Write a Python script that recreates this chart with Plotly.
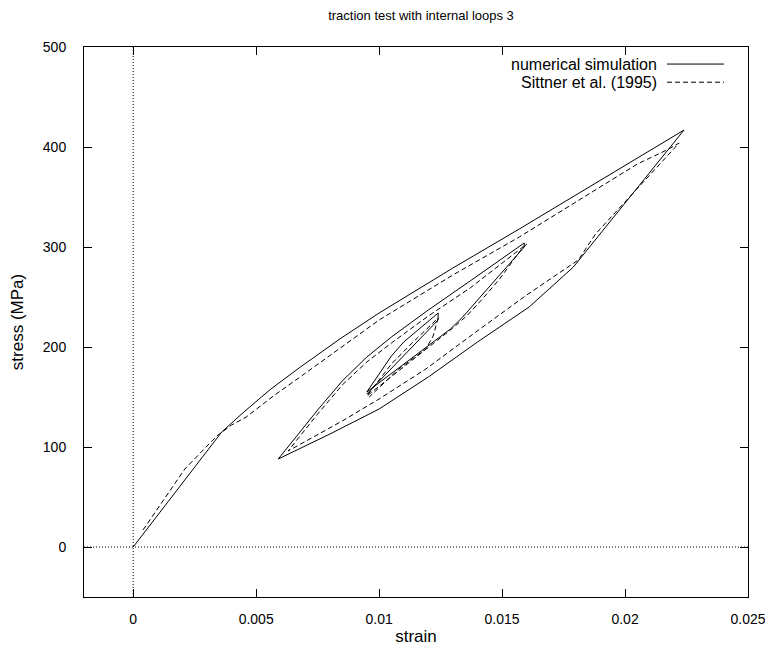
import plotly.graph_objects as go

# ---- data: numerical simulation (solid) ----
sim_strain = [0.0, 0.0036, 0.0045, 0.0056, 0.0068, 0.0084, 0.0100, 0.0130, 0.0157, 0.0206, 0.0224,
              0.0179, 0.0161, 0.0140, 0.0120, 0.0100, 0.0080, 0.0059,
              0.0075, 0.0085, 0.0095, 0.0105, 0.0120, 0.0137, 0.0159,
              0.0159, 0.0141, 0.0134, 0.0129, 0.0095,
              0.0105, 0.0110, 0.0124, 0.0124, 0.0095]
sim_stress = [0, 115, 135, 158, 180, 208, 234, 279, 318, 390, 417,
              280, 240, 205, 170, 138, 113, 88,
              137, 166, 190, 210, 237, 266, 304,
              300, 249, 230, 218, 155,
              191, 205, 234, 227, 153]

# ---- data: Sittner et al. (1995) (dashed) ----
exp_strain = [0.0004, 0.0021, 0.0034, 0.0040, 0.0046, 0.0057, 0.0069, 0.0085, 0.0100, 0.0130, 0.0157,
              0.0205, 0.0217, 0.0222,
              0.0188, 0.0181, 0.0160, 0.0141, 0.0119, 0.0100, 0.0085, 0.0063,
              0.0075, 0.0085, 0.0095, 0.0105, 0.0120, 0.0137, 0.0158, 0.0160,
              0.0157, 0.0149, 0.0142, 0.0136, 0.0130, 0.0095,
              0.0105, 0.0113, 0.0124,
              0.0122, 0.0119, 0.0112, 0.0108, 0.0096]
exp_stress = [17, 78, 111, 122, 130, 151, 172, 200, 227, 272, 310,
              383, 397, 404,
              313, 287, 252, 218, 178, 148, 126, 96,
              133, 162, 185, 204, 231, 259, 299, 303,
              295, 268, 248, 232, 219, 151,
              183, 203, 229,
              211, 198, 185, 178, 150]

x_ticks = [0, 0.005, 0.01, 0.015, 0.02, 0.025]
x_tick_labels = ["0", "0.005", "0.01", "0.015", "0.02", "0.025"]
y_ticks = [0, 100, 200, 300, 400, 500]
y_tick_labels = ["0", "100", "200", "300", "400", "500"]

legend_names = ["numerical simulation", "Sittner et al. (1995)"]

FONT = "Liberation Sans, Arial, Helvetica, sans-serif"

fig = go.Figure()
fig.add_trace(go.Scatter(x=sim_strain, y=sim_stress, mode="lines",
                         line=dict(color="black", width=1), name=legend_names[0],
                         showlegend=False))
fig.add_trace(go.Scatter(x=exp_strain, y=exp_stress, mode="lines",
                         line=dict(color="black", width=1, dash="5px,3px"), name=legend_names[1],
                         showlegend=False))

# dotted zero axes
fig.add_shape(type="line", xref="x", yref="paper", x0=0, x1=0, y0=0, y1=1,
              line=dict(color="black", width=1, dash="1px,2px"), layer="below")
fig.add_shape(type="line", xref="paper", yref="y", x0=0, x1=1, y0=0, y1=0,
              line=dict(color="black", width=1, dash="1px,2px"), layer="below")

# custom gnuplot-style legend (text right, sample to the right)
leg_rows = [0.969, 0.936]
leg_dash = ["solid", "5px,3px"]
for name, yy, dd in zip(legend_names, leg_rows, leg_dash):
    fig.add_annotation(x=0.866, y=yy, xref="paper", yref="paper", text=name,
                       showarrow=False, xanchor="right", yanchor="middle",
                       font=dict(family=FONT, size=16, color="black"))
    fig.add_shape(type="line", xref="paper", yref="paper", x0=0.878, x1=0.964,
                  y0=yy, y1=yy, line=dict(color="black", width=1, dash=dd))

fig.update_layout(
    width=773, height=653,
    margin=dict(l=76, r=33, t=39, b=64, autoexpand=False),
    paper_bgcolor="white", plot_bgcolor="white",
    font=dict(family=FONT, size=14, color="black"),
    title=dict(text="traction test with internal loops 3", x=0.5343, xanchor="center",
               y=1 - 7 / 653, yanchor="middle", font=dict(size=13), automargin=False),
    showlegend=False,
)
fig.update_xaxes(range=[-0.002, 0.025], tickvals=x_ticks, ticktext=x_tick_labels,
                 showgrid=False, zeroline=False, showline=True, linecolor="black", linewidth=1,
                 mirror="ticks", ticks="inside", ticklen=8, tickcolor="black",
                 automargin=False, ticklabelstandoff=9,
                 title=dict(text="strain", standoff=4))
fig.update_yaxes(range=[-50, 500], tickvals=y_ticks, ticktext=y_tick_labels,
                 showgrid=False, zeroline=False, showline=True, linecolor="black", linewidth=1,
                 mirror="ticks", ticks="inside", ticklen=8, tickcolor="black",
                 automargin=False, ticklabelstandoff=14,
                 title=dict(text="stress (MPa)", standoff=15))

fig.write_html("out.html")
